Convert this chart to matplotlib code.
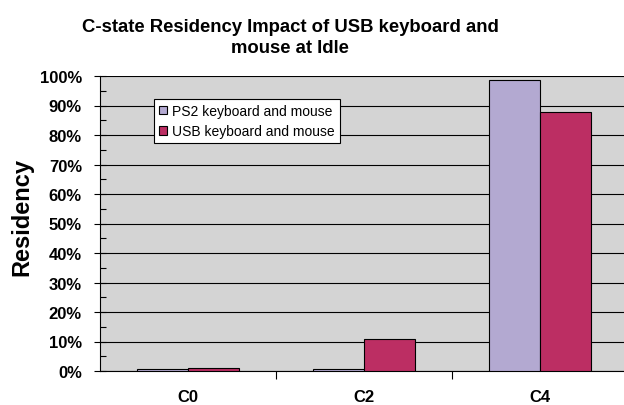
import matplotlib.pyplot as plt
import numpy as np
from matplotlib.ticker import MultipleLocator, FuncFormatter

categories = ["C0", "C2", "C4"]
ps2_values = [0.6, 0.6, 98.6]
usb_values = [0.9, 10.9, 87.9]
series_labels = ["PS2 keyboard and mouse", "USB keyboard and mouse"]

plt.rcParams['font.family'] = ['Liberation Sans', 'DejaVu Sans']

fig = plt.figure(figsize=(6.24, 4.06), dpi=100)
W, H = 624.0, 406.0
# plot area: x 100..628 px, y 77..372 px
ax = fig.add_axes([100 / W, 1 - 372 / H, 528 / W, 295 / H])
ax.set_facecolor("#D4D4D4")

x = np.arange(len(categories))
bw = 0.287
ax.bar(x - bw / 2, ps2_values, bw, color="#B3A9D1", edgecolor="black", linewidth=0.8,
       label=series_labels[0], zorder=3)
ax.bar(x + bw / 2, usb_values, bw, color="#BC2E63", edgecolor="black", linewidth=0.8,
       label=series_labels[1], zorder=3)

ax.set_xlim(-0.5, 2.5)
ax.set_ylim(0, 100)
ax.yaxis.set_major_locator(MultipleLocator(10))
ax.yaxis.set_minor_locator(MultipleLocator(5))
ax.yaxis.set_major_formatter(FuncFormatter(lambda v, p: f"{int(v)}%"))
ax.grid(axis="y", which="major", color="black", linewidth=0.8, zorder=1)

ax.set_xticks([0.5, 1.5])
ax.set_xticklabels([])
ax.tick_params(axis="x", which="major", direction="out", length=6, width=0.8)
ax.tick_params(axis="y", which="major", direction="inout", length=8, width=0.8, pad=9)
ax.tick_params(axis="y", which="minor", direction="in", length=4, width=0.8)
for lbl in ax.get_yticklabels():
    lbl.set_fontweight("bold")
    lbl.set_fontsize(12)

for i, c in enumerate(categories):
    ax.text(i, -0.085, c, transform=ax.get_xaxis_transform(), ha="center", va="center",
            fontsize=12, fontweight="bold")

for s in ["top", "right"]:
    ax.spines[s].set_visible(False)
ax.spines["left"].set_linewidth(0.8)
ax.spines["bottom"].set_linewidth(0.8)

ax.set_ylabel("Residency", fontsize=17, fontweight="bold")
ax.yaxis.set_label_coords((33 - 100) / 528, 0.524)

leg = ax.legend(loc="upper left", bbox_to_anchor=(54 / 528, 1 - 23 / 295), fontsize=10,
                frameon=True, fancybox=False, edgecolor="black", framealpha=1,
                handlelength=0.6, handleheight=0.6, handletextpad=0.35,
                borderpad=0.35, labelspacing=0.45, borderaxespad=0)
leg.get_frame().set_linewidth(0.8)

fig.text(290 / W, 1 - 32 / H, "C-state Residency Impact of USB keyboard and",
         ha="center", va="baseline", fontsize=13.3, fontweight="bold")
fig.text(290 / W, 1 - 53 / H, "mouse at Idle",
         ha="center", va="baseline", fontsize=13.3, fontweight="bold")

fig.savefig("out.png", dpi=100)
